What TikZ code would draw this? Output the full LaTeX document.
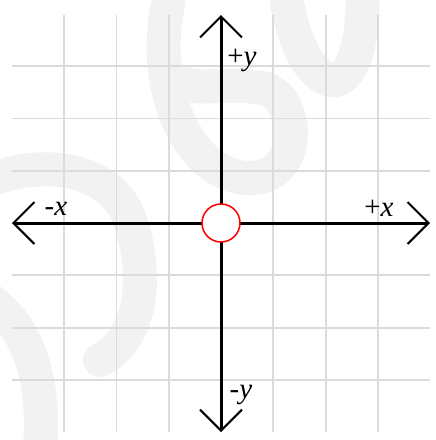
\documentclass[tikz,border=0pt]{standalone}
\usepackage{fontspec}
\setmainfont{Liberation Serif}
\usetikzlibrary{arrows.meta, positioning}

\newcommand{\axislabelfont}{\fontsize{29pt}{32pt}\selectfont}

\begin{document}
\begin{tikzpicture}[
    x=1pt, y=-1pt,
    watermark/.style={
        draw=gray!10,
        line width=34pt,
        line cap=round
    },
    gridline/.style={
        draw=gray!28,
        line width=1.8pt
    },
    axis/.style={
        draw=black,
        line width=3pt,
        {Straight Barb[length=21pt, width=42pt, line width=2pt]}-{Straight Barb[length=21pt, width=42pt, line width=2pt]}
    },
    origin/.style={
        circle,
        draw=red,
        fill=white,
        line width=1.5pt,
        minimum size=38pt,
        inner sep=0pt
    },
    lbl/.style={
        font=\axislabelfont,
        inner sep=0pt
    }
]

\useasboundingbox[fill=white] (0,0) rectangle (436,440);

% faint background marks
\begin{scope}
\clip (0,0) rectangle (436,440);
\draw[watermark] (168,5) .. controls (150,90) and (190,178) .. (250,178)
    .. controls (305,178) and (300,95) .. (262,88)
    .. controls (230,82) and (200,90) .. (186,84);
\draw[watermark] (285,-10) .. controls (295,60) and (320,82) .. (335,80)
    .. controls (355,78) and (365,30) .. (362,-10);
\draw[watermark] (-10,180) .. controls (40,160) and (110,165) .. (130,220)
    .. controls (150,280) and (140,340) .. (100,360);
\draw[watermark] (-10,300) .. controls (30,330) and (45,380) .. (40,450);
\end{scope}

% grid
\foreach \i in {-3,...,3} {
    \draw[gridline] (221+52.3*\i,15) -- (221+52.3*\i,432);
    \draw[gridline] (12,223+52.3*\i) -- (430,223+52.3*\i);
}

\coordinate (xl) at (12,223);
\coordinate (xr) at (430,223);
\coordinate (yt) at (221,15);
\coordinate (yb) at (221,432);

\draw[axis] (xl) -- (xr);
\draw[axis] (yb) -- (yt);

\node[origin] (o) at (221,223) {};

\node[lbl] (py) at (242,60) {+\textit{y}};
\node[lbl] (my) at (241,395) {-\textit{y}};
\node[lbl] (px) at (379,208) {+\textit{x}};
\node[lbl] (mx) at (56,209) {-\textit{x}};

\end{tikzpicture}
\end{document}
